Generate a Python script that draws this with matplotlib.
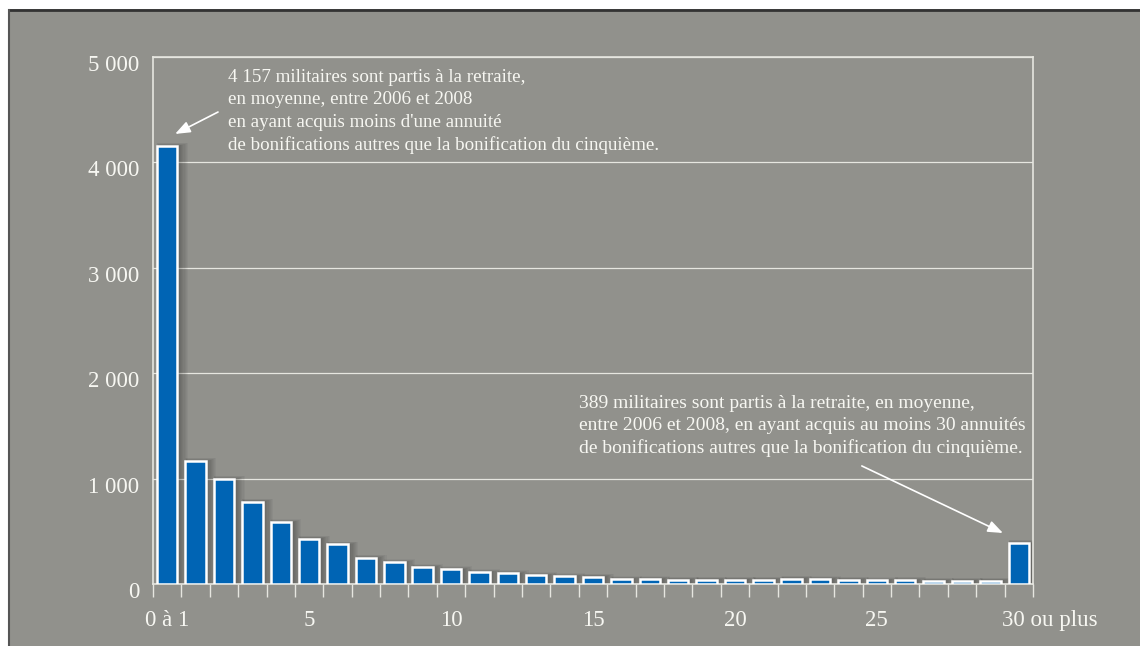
import matplotlib
matplotlib.use("Agg")
import matplotlib.pyplot as plt
import matplotlib.transforms as mtransforms
from matplotlib.lines import Line2D
from matplotlib.patches import Rectangle
import numpy as np

# Data
categories = list(range(31))
values = [4157, 1167, 996, 781, 585, 430, 375, 247, 206, 161, 139,
          111, 101, 83, 73, 69, 47, 47, 41, 41, 41, 41, 50,
          47, 41, 35, 38, 31, 31, 31, 389]
tick_positions = [0, 5, 10, 15, 20, 25, 30]
tick_labels = ["0 à 1", "5", "10", "15", "20", "25", "30 ou plus"]
y_ticks = [0, 1000, 2000, 3000, 4000, 5000]
y_labels = ["0", "1 000", "2 000", "3 000", "4 000", "5 000"]

note_first = ("4 157 militaires sont partis à la retraite,\n"
              "en moyenne, entre 2006 et 2008\n"
              "en ayant acquis moins d'une annuité\n"
              "de bonifications autres que la bonification du cinquième.")
note_last = ("389 militaires sont partis à la retraite, en moyenne,\n"
             "entre 2006 et 2008, en ayant acquis au moins 30 annuités\n"
             "de bonifications autres que la bonification du cinquième.")

BG = "#91918c"
BAR = "#0064b4"
TXT = "#f7f7f2"
LINE = "#e6e6e0"

plt.rcParams["font.family"] = ["Liberation Serif", "DejaVu Serif"]

W, H = 1140, 646
fig = plt.figure(figsize=(W / 100, H / 100), dpi=100, facecolor=BG)

# outer frame: white margins top/left and dark border line
fig.add_artist(Rectangle((0, 1 - 9 / H), 1, 9 / H, transform=fig.transFigure,
                         facecolor="white", edgecolor="none", zorder=0))
fig.add_artist(Rectangle((0, 0), 8 / W, 1, transform=fig.transFigure,
                         facecolor="white", edgecolor="none", zorder=0))
fig.add_artist(Line2D([8.5 / W, 1], [1 - 9.5 / H, 1 - 9.5 / H], transform=fig.transFigure,
                      color="#333333", lw=2))
fig.add_artist(Line2D([8.5 / W, 8.5 / W], [0, 1 - 9.5 / H], transform=fig.transFigure,
                      color="#555555", lw=1.5))

ax = fig.add_axes([153 / W, 1 - 584 / H, (1033 - 153) / W, (584 - 57) / H])
ax.set_facecolor(BG)
ax.set_xlim(-0.5, 30.5)
ax.set_ylim(0, 5000)

x = np.array(categories, dtype=float)
vals = np.array(values, dtype=float)

# soft shadow (mostly to the right)
for k in range(8):
    ax.bar(x + 0.08 + 0.015 * k, vals + 4 * k, width=0.74 + 0.05 * k, color="black",
           alpha=0.035, linewidth=0, zorder=1)

ax.bar(x, vals, width=0.72, color=BAR, edgecolor="white", linewidth=1.8, zorder=3)

# grid
ax.set_yticks(y_ticks)
ax.yaxis.grid(True, color=LINE, linewidth=0.9, zorder=0)
ax.set_axisbelow(True)
ax.set_yticklabels(y_labels, color=TXT, fontsize=16.5)
ax.tick_params(axis="y", length=0, pad=10)
offset = mtransforms.ScaledTranslation(0, -6 / 100, fig.dpi_scale_trans)
for lab in ax.get_yticklabels():
    lab.set_transform(lab.get_transform() + offset)

ax.set_xticks(tick_positions)
ax.set_xticklabels(tick_labels, color=TXT, fontsize=16.5)
ax.tick_params(axis="x", which="major", length=0, pad=19)
ax.set_xticks(np.arange(-0.5, 31, 1.0), minor=True)
ax.tick_params(axis="x", which="minor", length=9, width=1, color=LINE)
last = ax.get_xticklabels()[-1]
last.set_horizontalalignment("left")
last.set_transform(last.get_transform() +
                   mtransforms.ScaledTranslation(-17 / 100, 0, fig.dpi_scale_trans))

for s in ax.spines.values():
    s.set_color(LINE)
    s.set_linewidth(1.2)

# annotations
ax.annotate("", xy=(0.28, 4270), xytext=(1.79, 4478),
            arrowprops=dict(arrowstyle="-|>,head_length=0.9,head_width=0.35",
                            color="white", lw=1.2, shrinkA=0, shrinkB=0), zorder=5)
ax.text(2.15, 4885, note_first, color=TXT, fontsize=13.7, va="top", ha="left",
        linespacing=1.41, zorder=5)

ax.annotate("", xy=(29.44, 484), xytext=(24.47, 1120),
            arrowprops=dict(arrowstyle="-|>,head_length=0.9,head_width=0.35",
                            color="white", lw=1.2, shrinkA=0, shrinkB=0), zorder=5)
ax.text(14.5, 1790, note_last, color=TXT, fontsize=14.0, va="top", ha="left",
        linespacing=1.36, zorder=5)

fig.savefig("out.png", dpi=100, facecolor=fig.get_facecolor())
